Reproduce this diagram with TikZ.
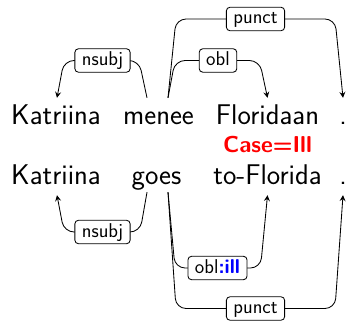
\documentclass[tikz,border=0pt]{standalone}
\usetikzlibrary{calc,arrows.meta}
\begin{document}
\begin{tikzpicture}[x=1pt,y=1pt,
  word/.style={font=\fontsize{28.5}{30}\selectfont\sffamily, inner sep=0pt, anchor=base, text height=20pt, text depth=6pt},
  lab/.style={draw, rounded corners=3.5pt, fill=white, line width=0.85pt, font=\fontsize{20}{22}\selectfont\sffamily, inner xsep=7pt, inner ysep=2.8pt, text height=13.9pt, text depth=3.9pt},
  arc/.style={line width=0.85pt, rounded corners=10pt},
  arr/.style={arc, -{Stealth[length=6pt,width=6pt,inset=2.2pt]}}]
\useasboundingbox (0,0) rectangle (347,321);
% words
\node[word] (t1) at (56,196) {Katriina};
\node[word] (t2) at (158.5,196) {menee};
\node[word] (t3) at (267.5,196) {Floridaan};
\node[word] (t4) at (343,196) {.};
\node[word] (b1) at (56,136) {Katriina};
\node[word] (b2) at (156.5,136) {goes};
\node[word] (b3) at (267.5,136) {to-Florida};
\node[word] (b4) at (343,136) {.};
\node[font=\fontsize{23}{25}\selectfont\sffamily\bfseries, text=red, anchor=base, inner sep=0pt] (case) at (267.5,168) {Case=Ill};
% anchors
\coordinate (t2l) at ($(t2.north)+(-11.5,7)$);
\coordinate (t2r) at ($(t2.north)+(9.5,7)$);
\coordinate (t1a) at ($(t1.north)+(1,7)$);
\coordinate (t3a) at ($(t3.north)+(0,7)$);
\coordinate (t4a) at ($(t4.north)+(0,7)$);
\coordinate (b2l) at ($(b2.south)+(-9.5,-1)$);
\coordinate (b2r) at ($(b2.south)+(11.5,-1)$);
\coordinate (b1a) at ($(b1.south)+(1,-4)$);
\coordinate (b3a) at ($(b3.south)+(0,-4)$);
\coordinate (b4a) at ($(b4.south)+(0,-4)$);
% levels
\coordinate (lt1) at (0,260.5);
\coordinate (lt2) at (0,302);
\coordinate (lb1) at (0,89);
\coordinate (lb2) at (0,53);
\coordinate (lb3) at (0,12.5);
% top arcs
\draw[arr] (t2l) -- ($(t2l |- lt1)+(-8,0)$) -- ($(t1a |- lt1)+(7,0)$) -- (t1a);
\draw[arr] (t2r) -- ($(t2r |- lt1)+(7,0)$) -- ($(t3a |- lt1)+(-8,0)$) -- (t3a);
\draw[arr] (t2r) -- ($(t2r |- lt2)+(8,0)$) -- ($(t4a |- lt2)+(-8,0)$) -- (t4a);
% bottom arcs
\draw[arr] (b2l) -- ($(b2l |- lb1)+(-7,0)$) -- ($(b1a |- lb1)+(7,0)$) -- (b1a);
\draw[arr] (b2r) -- ($(b2r |- lb2)+(7,0)$) -- ($(b3a |- lb2)+(-7,0)$) -- (b3a);
\draw[arr] (b2r) -- ($(b2r |- lb3)+(8,0)$) -- ($(b4a |- lb3)+(-8,0)$) -- (b4a);
% labels
\node[lab] (l1) at (102.5,260.5) {nsubj};
\node[lab] (l2) at (218,260.5) {obl};
\node[lab] (l3) at (255.5,302) {punct};
\node[lab] (l4) at (102.5,89) {nsubj};
\node[lab] (l5) at (217.5,53) {obl\textcolor{blue}{\bfseries:ill}};
\node[lab] (l6) at (255.5,12.5) {punct};
\end{tikzpicture}
\end{document}
